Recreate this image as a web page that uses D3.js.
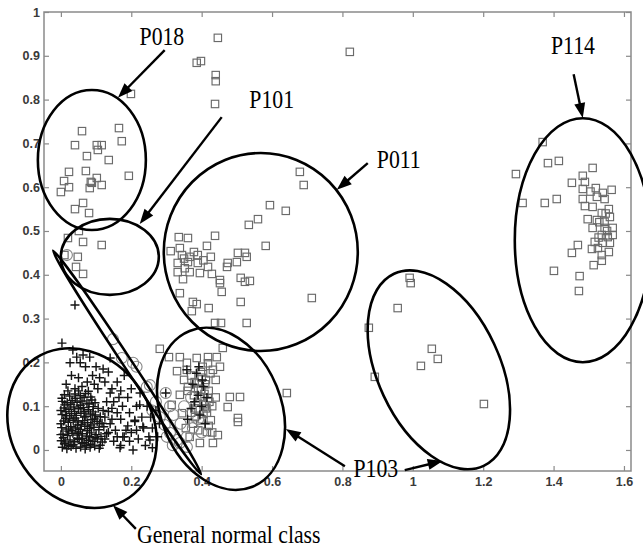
<!DOCTYPE html>
<html><head><meta charset="utf-8">
<script src="https://cdn.jsdelivr.net/npm/d3@7"></script>
<style>body{margin:0;background:#fff}svg{display:block}</style>
</head><body>
<svg id="c" width="643" height="549"></svg>
<script>
// ---- data ----
const xTicks = [0,0.2,0.4,0.6,0.8,1,1.2,1.4,1.6];
const yTicks = [0,0.1,0.2,0.3,0.4,0.5,0.6,0.7,0.8,0.9,1];

// abnormal samples (squares)
const squarePts = [
 // P018
 [0.199,0.813],[0.060,0.728],[0.165,0.735],[0.040,0.696],[0.102,0.696],[0.116,0.696],[0.173,0.705],
 [0.074,0.671],[0.105,0.685],[0.136,0.662],[0.023,0.635],[0.071,0.637],[0.009,0.614],[0.102,0.621],
 [0.193,0.626],[0.085,0.612],[0.088,0.610],[0.116,0.605],[0.023,0.600],[0.082,0.598],[0.000,0.589],
 [0.063,0.564],[0.040,0.550],[0.080,0.541],
 // P101
 [0.051,0.500],[0.020,0.484],[0.063,0.475],[0.116,0.468],[0.048,0.441],[0.043,0.418],[0.063,0.402],[0.010,0.445],
 // top scattered
 [0.446,0.941],[0.386,0.884],[0.398,0.888],[0.440,0.856],[0.440,0.842],[0.438,0.790],[0.821,0.909],
 // P011
 [0.679,0.635],[0.690,0.605],[0.594,0.559],[0.639,0.546],[0.560,0.527],[0.534,0.514],[0.438,0.489],
 [0.335,0.486],[0.361,0.484],[0.415,0.466],[0.582,0.466],[0.312,0.454],[0.338,0.461],[0.344,0.445],
 [0.366,0.441],[0.389,0.445],[0.426,0.441],[0.503,0.450],[0.523,0.450],[0.528,0.441],[0.474,0.427],
 [0.500,0.429],[0.332,0.427],[0.361,0.429],[0.389,0.427],[0.418,0.418],[0.472,0.418],[0.332,0.406],
 [0.366,0.406],[0.395,0.404],[0.429,0.402],[0.347,0.390],[0.452,0.388],[0.452,0.381],[0.511,0.393],
 [0.523,0.384],[0.537,0.386],[0.457,0.361],[0.338,0.358],[0.511,0.338],[0.713,0.347],[0.375,0.338],
 [0.386,0.333],[0.420,0.324],[0.372,0.317],[0.438,0.290],[0.455,0.290],[0.528,0.290],
 [0.350,0.437],[0.378,0.452],[0.405,0.433],[0.352,0.415],
 // P103 (left group)
 [0.281,0.231],[0.307,0.212],[0.338,0.212],[0.358,0.199],[0.386,0.210],[0.418,0.212],[0.443,0.212],
 [0.460,0.233],[0.358,0.183],[0.403,0.190],[0.432,0.183],[0.452,0.190],[0.480,0.121],[0.509,0.121],
 [0.474,0.098],[0.503,0.073],[0.503,0.064],[0.446,0.034],[0.432,0.016],[0.395,0.016],[0.642,0.130],
 [0.315,0.103],[0.338,0.126],[0.361,0.144],[0.344,0.084],[0.381,0.075],[0.395,0.091],[0.418,0.119],
 [0.415,0.041],[0.366,0.030],[0.370,0.170],[0.380,0.155],[0.390,0.140],[0.400,0.165],[0.410,0.150],
 [0.420,0.135],[0.395,0.120],[0.405,0.105],[0.385,0.095],[0.415,0.085],[0.400,0.070],[0.375,0.060],
 [0.420,0.055],[0.390,0.045],[0.430,0.100],[0.425,0.175],[0.440,0.160],[0.360,0.135],[0.350,0.160],
 [0.330,0.180],[0.440,0.120],[0.370,0.085],[0.355,0.050],[0.430,0.040],
 [0.398,0.178],[0.412,0.160],[0.392,0.152],[0.408,0.128],[0.422,0.110],[0.398,0.138],[0.412,0.095],
 [0.388,0.108],[0.426,0.068],[0.405,0.082],[0.378,0.125],[0.418,0.198],
 // P103 (right group)
 [0.991,0.393],[0.994,0.381],[0.957,0.324],[0.875,0.279],[1.054,0.231],[1.071,0.208],[1.023,0.192],
 [0.892,0.167],[1.202,0.105],
 // P114
 [1.369,0.703],[1.384,0.655],[1.415,0.660],[1.293,0.630],[1.511,0.644],[1.483,0.626],[1.452,0.610],
 [1.489,0.612],[1.483,0.596],[1.520,0.598],[1.565,0.594],[1.540,0.587],[1.312,0.564],[1.375,0.564],
 [1.409,0.573],[1.483,0.573],[1.523,0.578],[1.545,0.573],[1.489,0.557],[1.511,0.555],[1.557,0.550],
 [1.537,0.541],[1.560,0.532],[1.497,0.527],[1.523,0.525],[1.545,0.521],[1.511,0.507],[1.545,0.507],
 [1.568,0.507],[1.537,0.491],[1.554,0.486],[1.568,0.491],[1.517,0.475],[1.540,0.473],[1.560,0.473],
 [1.469,0.468],[1.452,0.450],[1.509,0.459],[1.526,0.461],[1.557,0.452],[1.537,0.445],[1.514,0.422],
 [1.537,0.432],[1.401,0.409],[1.474,0.397],[1.472,0.363],
 [1.530,0.520],[1.552,0.500],[1.528,0.485],[1.548,0.540],[1.505,0.590]
];

// general normal class samples (plus signs)
const plusPts = [
 [0.004,0.006],[0.017,0.003],[0.029,0.008],[0.043,0.004],[0.056,0.007],[0.069,0.002],[0.083,0.006],[0.096,0.009],[0.109,0.004],
 [0.001,0.021],[0.012,0.018],[0.026,0.023],[0.039,0.019],[0.052,0.024],[0.066,0.017],[0.078,0.022],[0.091,0.020],[0.104,0.025],[0.118,0.018],
 [0.006,0.036],[0.019,0.033],[0.034,0.038],[0.047,0.034],[0.061,0.037],[0.073,0.032],[0.087,0.039],[0.100,0.035],[0.114,0.031],[0.130,0.037],
 [0.002,0.051],[0.015,0.048],[0.028,0.053],[0.042,0.050],[0.055,0.047],[0.068,0.054],[0.081,0.049],[0.094,0.052],[0.108,0.046],[0.122,0.053],
 [0.008,0.066],[0.021,0.063],[0.035,0.068],[0.049,0.064],[0.062,0.067],[0.076,0.062],[0.089,0.069],[0.103,0.065],[0.117,0.061],
 [0.003,0.081],[0.016,0.078],[0.030,0.083],[0.044,0.079],[0.057,0.084],[0.071,0.077],[0.084,0.082],[0.098,0.080],[0.112,0.076],
 [0.009,0.096],[0.023,0.093],[0.037,0.098],[0.050,0.094],[0.064,0.097],[0.078,0.092],[0.092,0.099],[0.106,0.095],
 [0.004,0.111],[0.018,0.108],[0.032,0.113],[0.046,0.109],[0.060,0.112],[0.074,0.107],[0.088,0.114],
 [0.010,0.126],[0.025,0.123],[0.040,0.128],[0.055,0.124],[0.070,0.129],[0.085,0.121],
 [0.010,0.014],[0.035,0.012],[0.060,0.015],[0.085,0.013],[0.022,0.043],[0.050,0.041],[0.075,0.044],
 [0.013,0.072],[0.040,0.073],[0.067,0.075],[0.095,0.071],[0.028,0.104],[0.055,0.102],[0.080,0.105],
 [0.000,0.090],[0.000,0.060],[0.000,0.035],
 [0.007,0.028],[0.022,0.011],[0.047,0.027],[0.072,0.010],[0.097,0.028],[0.031,0.045],[0.058,0.058],
 [0.085,0.057],[0.110,0.060],[0.014,0.088],[0.039,0.088],[0.066,0.088],[0.091,0.087],[0.011,0.103],
 [0.041,0.118],[0.066,0.120],[0.097,0.108],[0.120,0.090],[0.125,0.025],[0.112,0.011],[0.047,0.057],
 [0.025,0.072],[0.082,0.030],[0.003,0.118],[0.060,0.027],[0.020,0.135],[0.050,0.135],[0.078,0.134],
 [0.130,0.110],[0.145,0.095],[0.160,0.085],[0.140,0.060],[0.155,0.045],[0.170,0.070],[0.180,0.030],
 [0.190,0.055],[0.200,0.040],[0.210,0.065],[0.220,0.025],[0.235,0.050],[0.250,0.030],[0.260,0.050],
 [0.240,0.010],[0.205,0.000],[0.170,0.010],[0.150,0.020],[0.135,0.040],[0.175,0.100],[0.195,0.085],
 [0.215,0.100],[0.230,0.075],[0.255,0.075],[0.165,0.120],[0.190,0.120],[0.125,0.075],[0.140,0.130],
 [0.200,0.140],[0.225,0.130],[0.260,0.005],[0.275,0.030],[0.280,0.060],[0.245,0.100],[0.270,0.090],
 [0.253,0.023],[0.233,0.053],[0.224,0.103],[0.210,0.068],[0.176,0.030],[0.168,0.005],
 [0.145,0.070],[0.160,0.030],[0.185,0.045],[0.150,0.110],[0.135,0.088],[0.195,0.020],[0.215,0.045],
 [0.003,0.244],[0.026,0.199],[0.045,0.212],[0.063,0.217],[0.082,0.212],[0.034,0.228],[0.055,0.199],
 [0.070,0.190],[0.100,0.190],[0.120,0.185],[0.135,0.178],[0.110,0.165],[0.090,0.170],[0.075,0.155],
 [0.050,0.165],[0.030,0.170],[0.015,0.150],[0.060,0.145],[0.095,0.150],[0.125,0.155],[0.145,0.140],
 [0.160,0.155],[0.170,0.135],[0.105,0.140],[0.040,0.140],[0.140,0.210],[0.180,0.170],[0.040,0.331],
 [0.298,0.130],
 [0.358,0.183],[0.375,0.150],[0.390,0.125],[0.400,0.100],[0.380,0.110],[0.395,0.080],[0.410,0.060],
 [0.385,0.175],[0.405,0.145],[0.370,0.095],[0.415,0.120],[0.360,0.070],[0.402,0.160],[0.392,0.190]
];

// boundary samples (circles)
const circlePts = [
 [0.017,0.445],[0.148,0.253],[0.173,0.210],[0.205,0.199],[0.215,0.190],[0.244,0.144],[0.253,0.148],
 [0.298,0.130],[0.281,0.075],[0.295,0.057],[0.310,0.039],[0.330,0.023],[0.338,0.016],[0.358,0.007],
 [0.301,0.030],[0.318,0.011],[0.358,0.030],[0.340,0.060],[0.320,0.080],[0.375,0.050],[0.390,0.070],
 [0.400,0.040],[0.350,0.100],[0.370,0.120],[0.410,0.100],[0.310,0.100],[0.270,0.110],[0.260,0.090]
];

// annotations: ellipses (centre in data units; semi-axes in px, rotation deg)
const ellipses = [
 {cx:0.060, cy:0.050, a:84, b:70, rot:56},   // general normal class
 {cx:0.455, cy:0.094, a:84, b:60, rot:68},   // P103 left
 {cx:1.074, cy:0.183, a:106, b:61, rot:65},  // P103 right
 {cx:0.188, cy:0.200, a:134, b:4.5, rot:56.5}, // boundary band
 {cx:0.088, cy:0.662, a:54, b:70, rot:0},    // P018
 {cx:0.139, cy:0.441, a:49, b:38, rot:0},    // P101
 {cx:0.568, cy:0.452, a:97, b:99, rot:0},    // P011
 {cx:1.483, cy:0.479, a:68, b:122, rot:0}    // P114
];
const labels = [
 {t:"P018", x:0.287, y:0.925},
 {t:"P101", x:0.599, y:0.781},
 {t:"P011", x:0.960, y:0.644},
 {t:"P114", x:1.455, y:0.904},
 {t:"P103", x:0.895, y:-0.062},
 {t:"General normal class", x:0.477, y:-0.212}
];
const arrows = [
 {x1:0.295,y1:0.913,x2:0.162,y2:0.804},
 {x1:0.457,y1:0.760,x2:0.224,y2:0.516},
 {x1:0.872,y1:0.655,x2:0.784,y2:0.594},
 {x1:1.457,y1:0.858,x2:1.483,y2:0.758},
 {x1:0.807,y1:-0.037,x2:0.639,y2:0.048},
 {x1:0.977,y1:-0.046,x2:1.085,y2:-0.025},
 {x1:0.213,y1:-0.180,x2:0.148,y2:-0.126}
];

// ---- drawing ----
const svg = d3.select("#c");
const L=44, R=631, T=12, B=471;
const x = d3.scaleLinear().domain([-0.048,1.62]).range([L,R]);
const y = d3.scaleLinear().domain([-0.048,1]).range([B,T]);
const axisCol = "#8a8a8a";
const fmt = d => d===0 ? "0" : (d===1 ? "1" : d3.format("")(d));

const axB = svg.append("g").attr("transform",`translate(0,${B})`)
  .call(d3.axisBottom(x).tickValues(xTicks).tickSize(-5).tickPadding(6).tickFormat(fmt));
const axL = svg.append("g").attr("transform",`translate(${L},0)`)
  .call(d3.axisLeft(y).tickValues(yTicks).tickSize(-5).tickPadding(4).tickFormat(fmt));
const axT = svg.append("g").attr("transform",`translate(0,${T})`)
  .call(d3.axisTop(x).tickValues(xTicks).tickSize(-5).tickFormat(""));
const axR = svg.append("g").attr("transform",`translate(${R},0)`)
  .call(d3.axisRight(y).tickValues(yTicks).tickSize(-5).tickFormat(""));
[axB,axL,axT,axR].forEach(g=>{
  g.select(".domain").remove();
  g.selectAll(".tick line").attr("stroke",axisCol).attr("stroke-width",1.2);
  g.selectAll("text").attr("fill","#3a3a3a").style("font-family","'Liberation Sans',Arial,sans-serif")
   .style("font-size","12.5px").style("font-weight","bold");
});
svg.append("rect").attr("x",L).attr("y",T).attr("width",R-L).attr("height",B-T)
  .attr("fill","none").attr("stroke",axisCol).attr("stroke-width",1.5);

// markers
const mk = svg.append("g");
mk.selectAll("rect.sq").data(squarePts).join("rect").attr("class","sq")
  .attr("x",d=>x(d[0])-3.7).attr("y",d=>y(d[1])-3.7).attr("width",7.4).attr("height",7.4)
  .attr("fill","none").attr("stroke","#6a6a6a").attr("stroke-width",1.15);
mk.selectAll("circle.ci").data(circlePts).join("circle").attr("class","ci")
  .attr("cx",d=>x(d[0])).attr("cy",d=>y(d[1])).attr("r",5.5)
  .attr("fill","none").attr("stroke","#858585").attr("stroke-width",1.1);
mk.selectAll("path.pl").data(plusPts).join("path").attr("class","pl")
  .attr("d",d=>{const cx=x(d[0]), cy=y(d[1]); return `M${cx-4.5},${cy}H${cx+4.5}M${cx},${cy-4.5}V${cy+4.5}`;})
  .attr("stroke","#151515").attr("stroke-width",1.45).attr("fill","none");

// ellipses
const an = svg.append("g");
an.selectAll("ellipse").data(ellipses).join("ellipse")
  .attr("transform",d=>`translate(${x(d.cx)},${y(d.cy)}) rotate(${d.rot})`)
  .attr("rx",d=>d.a).attr("ry",d=>d.b)
  .attr("fill","none").attr("stroke","#000").attr("stroke-width",2.6);

// arrows
arrows.forEach(a=>{
  const X1=x(a.x1), Y1=y(a.y1), X2=x(a.x2), Y2=y(a.y2);
  const ang=Math.atan2(Y2-Y1,X2-X1), len=15, hw=5.5;
  const bx=X2-len*Math.cos(ang), by=Y2-len*Math.sin(ang);
  an.append("line").attr("x1",X1).attr("y1",Y1).attr("x2",bx+3*Math.cos(ang)).attr("y2",by+3*Math.sin(ang))
    .attr("stroke","#000").attr("stroke-width",2.4);
  const px=-Math.sin(ang), py=Math.cos(ang);
  an.append("path").attr("d",`M${X2},${Y2}L${bx+hw*px},${by+hw*py}L${bx-hw*px},${by-hw*py}Z`).attr("fill","#000");
});

// labels
an.selectAll("text.lb").data(labels).join("text").attr("class","lb")
  .attr("transform",d=>`translate(${x(d.x)},${y(d.y)}) scale(0.87,1)`)
  .attr("text-anchor","middle")
  .style("font-family","'Liberation Serif','Times New Roman',serif").style("font-size","25px")
  .attr("fill","#000").text(d=>d.t);
</script>
</body></html>
